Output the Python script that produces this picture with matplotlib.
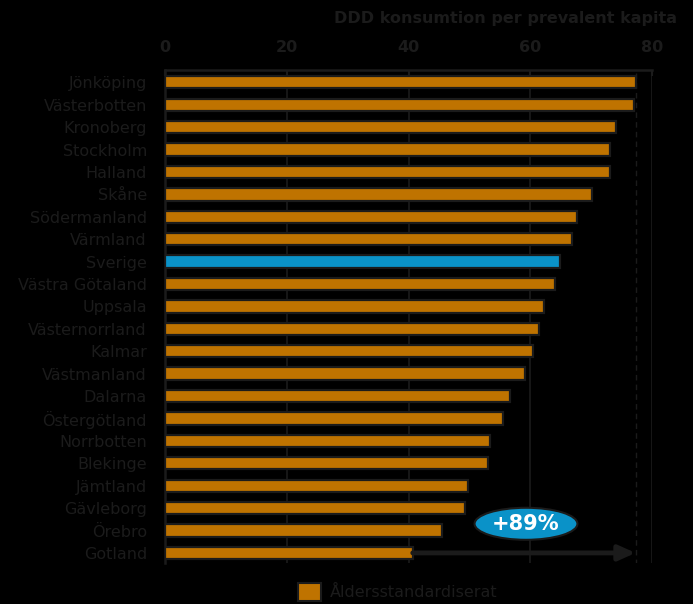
import matplotlib
matplotlib.use("Agg")
import matplotlib.pyplot as plt
from matplotlib.patches import Ellipse, Patch

regions = ["Jönköping", "Västerbotten", "Kronoberg", "Stockholm", "Halland", "Skåne",
           "Södermanland", "Värmland", "Sverige", "Västra Götaland", "Uppsala",
           "Västernorrland", "Kalmar", "Västmanland", "Dalarna", "Östergötland",
           "Norrbotten", "Blekinge", "Jämtland", "Gävleborg", "Örebro", "Gotland"]
values = [77.3, 77.0, 74.1, 73.1, 73.1, 70.1, 67.7, 66.8, 64.9, 64.0, 62.2,
          61.4, 60.4, 59.1, 56.6, 55.6, 53.4, 53.0, 49.8, 49.2, 45.5, 40.7]
xticks = [0, 20, 40, 60, 80]
highlight = "Sverige"
annotation = "+89%"
legend_label = "Åldersstandardiserat"
xlabel = "DDD konsumtion per prevalent kapita"

ORANGE = "#BF7300"
BLUE = "#0A92C8"
DARK = "#1b1b1b"
BG = "#000000"

fig = plt.figure(figsize=(6.93, 6.04), dpi=100, facecolor=BG)
ax = fig.add_axes([165/693, 1-563/604, (652-165)/693, (563-70)/604], facecolor=BG)

y = list(range(len(regions)))
colors = [BLUE if r == highlight else ORANGE for r in regions]
ax.barh(y, values, height=0.55, color=colors, edgecolor=DARK, linewidth=1.6, zorder=3)

ax.set_xlim(0, 80)
ax.set_ylim(len(regions) - 0.55, -0.55)
ax.set_yticks(y)
ax.set_yticklabels(regions, fontsize=11.5, color=DARK)
ax.xaxis.tick_top()
ax.set_xticks(xticks)
ax.set_xticklabels([str(t) for t in xticks], fontsize=11.5, color=DARK, fontweight="bold")
ax.tick_params(axis="y", length=0, pad=13)
ax.tick_params(axis="x", length=4, color=DARK, width=1.5, pad=11, direction="in")
ax.grid(axis="x", color=DARK, linewidth=1.2, zorder=0)
for s in ["right", "bottom"]:
    ax.spines[s].set_visible(False)
for s in ["left", "top"]:
    ax.spines[s].set_color(DARK)
    ax.spines[s].set_linewidth(1.8)

# reference line and arrow
top_v = values[0]
low_v = values[-1]
ax.vlines(top_v, -0.4, len(regions) - 0.55, colors=DARK, linestyles=(0, (4, 3)), linewidth=1.0, zorder=2)
ax.annotate("", xy=(top_v, y[-1]), xytext=(low_v, y[-1]),
            arrowprops=dict(arrowstyle="-|>,head_length=1.0,head_width=0.45", color=DARK, lw=3.5,
                            shrinkA=0, shrinkB=0), zorder=4)

ell_y = y[-2] - 0.3
ell = Ellipse((59.3, ell_y), width=16.9, height=1.43, facecolor=BLUE, edgecolor=DARK,
              linewidth=1.5, zorder=5)
ax.add_patch(ell)
ax.text(59.3, ell_y, annotation, ha="center", va="center", color="white",
        fontsize=15, fontweight="bold", zorder=6)

fig.text(677/693, 1-18/604, xlabel, ha="right", va="center", color=DARK,
         fontsize=11.5, fontweight="bold")

leg = fig.legend(handles=[Patch(facecolor=ORANGE, edgecolor=DARK, linewidth=1.5, label=legend_label)],
                 loc="center", bbox_to_anchor=(398/693, 1-592/604), frameon=False,
                 fontsize=11.5, handlelength=1.4, handleheight=1.4, handletextpad=0.6)
for t in leg.get_texts():
    t.set_color(DARK)

fig.savefig("out.png", dpi=100, facecolor=BG)
